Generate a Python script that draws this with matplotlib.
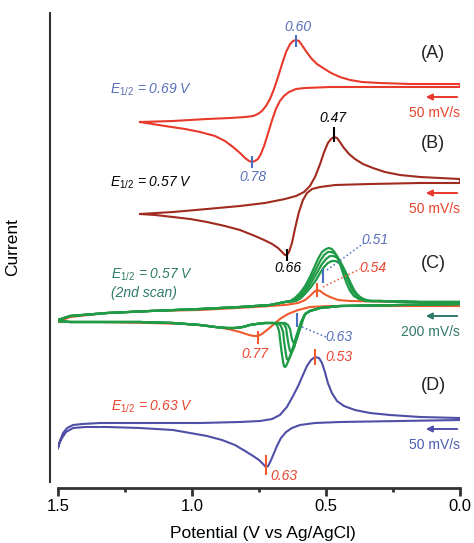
import numpy as np
import matplotlib
matplotlib.use("Agg")
import matplotlib.pyplot as plt
from matplotlib.ticker import MultipleLocator

plt.rcParams["font.family"] = ["Liberation Sans", "DejaVu Sans"]
plt.rcParams["mathtext.fontset"] = "custom"
plt.rcParams["mathtext.rm"] = "Liberation Sans"
plt.rcParams["mathtext.it"] = "Liberation Sans:italic"
plt.rcParams["mathtext.default"] = "it"

# --- DATA: potential (V vs Ag/AgCl) and current (arb. units, relative to baseline) ---
# (A) 50 mV/s
a_up_v = [1.194, 1.071, 0.944, 0.858, 0.802, 0.772, 0.754, 0.739, 0.724, 0.709, 0.694, 0.679,
          0.664, 0.649, 0.634, 0.623, 0.612, 0.601, 0.590, 0.575, 0.556, 0.534, 0.511, 0.481,
          0.448, 0.410, 0.366, 0.299, 0.187, 0.0]
a_up_i = [-37, -36, -34, -33, -32, -31, -29, -26, -21, -14, -4, 8,
          21, 33, 41, 44, 45, 44, 40, 34, 27, 21, 17, 12,
          8, 5, 3, 2, 1, 1]
a_dn_v = [0.0, 0.224, 0.485, 0.578, 0.612, 0.638, 0.657, 0.672, 0.687, 0.701, 0.716, 0.731,
          0.743, 0.754, 0.765, 0.776, 0.787, 0.802, 0.821, 0.847, 0.877, 0.914, 0.970, 1.026,
          1.101, 1.194]
a_dn_i = [-2, -2, -2, -3, -4, -7, -11, -16, -24, -35, -48, -61,
          -69, -74, -76, -77, -76, -73, -68, -62, -56, -51, -47, -44,
          -41, -37]

# (B) 50 mV/s
b_up_v = [1.194, 1.071, 0.944, 0.821, 0.728, 0.653, 0.612, 0.582, 0.560, 0.541, 0.522, 0.507,
          0.493, 0.481, 0.470, 0.459, 0.448, 0.433, 0.414, 0.392, 0.362, 0.325, 0.280, 0.224,
          0.149, 0.075, 0.0]
b_up_i = [-33, -31, -28, -25, -22, -18, -15, -11, -5, 4, 17, 29,
          38, 42, 44, 43, 39, 33, 27, 22, 17, 13, 9, 6,
          4, 3, 2]
b_dn_v = [0.0, 0.149, 0.336, 0.466, 0.522, 0.552, 0.571, 0.586, 0.601, 0.616, 0.627, 0.638,
          0.646, 0.653, 0.664, 0.679, 0.701, 0.731, 0.765, 0.821, 0.877, 0.944, 1.007, 1.071,
          1.138, 1.194]
b_dn_i = [-2, -2, -3, -4, -6, -8, -12, -19, -31, -48, -62, -71,
          -74, -74, -71, -67, -63, -59, -55, -49, -45, -41, -38, -36,
          -34, -33]

# (C) 200 mV/s, green = repeated scans, red = first scan
c_green_left_v = [1.5, 1.455, 1.317, 1.157, 0.97, 0.821, 0.709, 0.653]
c_green_left_i = [-18, -14, -11, -9, -7, -5, -3, 0]
c_green_peak_v = [
    [0.634, 0.616, 0.597, 0.578, 0.560, 0.545, 0.530, 0.515, 0.500, 0.489, 0.478, 0.466,
     0.455, 0.444, 0.433, 0.422, 0.410, 0.396, 0.377, 0.351],
    [0.627, 0.608, 0.590, 0.571, 0.552, 0.537, 0.522, 0.507, 0.493, 0.481, 0.470, 0.459,
     0.448, 0.437, 0.425, 0.414, 0.403, 0.388, 0.369, 0.343],
    [0.619, 0.601, 0.582, 0.563, 0.545, 0.530, 0.515, 0.500, 0.485, 0.474, 0.463, 0.451,
     0.440, 0.429, 0.418, 0.407, 0.396, 0.381, 0.362, 0.336],
    [0.612, 0.593, 0.575, 0.556, 0.537, 0.522, 0.507, 0.493, 0.478, 0.466, 0.455, 0.444,
     0.433, 0.422, 0.410, 0.399, 0.388, 0.373, 0.354, 0.328],
]
c_green_peak_i = [
    [1, 4, 9, 16, 25, 34, 43, 50, 53, 54, 53, 49, 43, 35, 26, 18, 11, 6, 3, 1],
    [1, 4, 9, 16, 25, 33, 41, 47, 50, 50, 49, 46, 41, 34, 26, 19, 12, 7, 3, 1],
    [1, 4, 9, 16, 24, 31, 38, 43, 46, 46, 45, 42, 37, 31, 24, 17, 11, 6, 3, 1],
    [1, 4, 9, 15, 22, 29, 35, 39, 41, 41, 40, 37, 33, 27, 20, 14, 9, 5, 2, 1],
]
c_green_right_v = [0.299, 0.149, 0.0]
c_green_right_i = [1, 0, 0]
c_green_ret_v = [0.0, 0.224, 0.448, 0.522, 0.56, 0.578]
c_green_ret_i = [-2, -3, -4, -6, -9, -12]
c_green_trough_v = [
    [0.593, 0.601, 0.612, 0.623, 0.634, 0.642, 0.649, 0.653, 0.657, 0.660, 0.664, 0.668,
     0.672, 0.675, 0.683, 0.694],
    [0.590, 0.597, 0.608, 0.619, 0.631, 0.638, 0.642, 0.646, 0.649, 0.653, 0.657, 0.660,
     0.668, 0.679],
    [0.590, 0.597, 0.604, 0.612, 0.619, 0.627, 0.631, 0.634, 0.638, 0.642, 0.646, 0.649,
     0.657, 0.668],
    [0.586, 0.593, 0.601, 0.608, 0.616, 0.619, 0.623, 0.627, 0.631, 0.634, 0.642, 0.653],
]
c_green_trough_i = [
    [-20, -26, -35, -45, -54, -60, -64, -65, -64, -60, -53, -45, -36, -29, -23, -21],
    [-19, -25, -35, -45, -53, -57, -58, -57, -53, -46, -38, -30, -24, -21],
    [-19, -25, -32, -39, -45, -49, -50, -49, -45, -39, -32, -26, -22, -21],
    [-18, -24, -30, -36, -40, -41, -40, -37, -32, -27, -23, -21],
]
c_green_end_v = [0.709, 0.728, 0.760, 0.784, 0.810, 0.840, 0.870, 0.914, 0.970, 1.071,
                 1.194, 1.317, 1.455, 1.5]
c_green_end_i = [-21, -21, -22, -23, -25, -26, -26, -25, -23, -21, -20, -20, -20, -19]

c_red_up_v = [1.5, 1.455, 1.317, 1.157, 0.970, 0.765, 0.653, 0.604, 0.578, 0.560, 0.545,
              0.534, 0.522, 0.507, 0.485, 0.455, 0.410, 0.224, 0.0]
c_red_up_i = [-20, -15, -11, -9, -8, -5, -3, -1, 2, 6, 10, 12, 11, 8, 5, 2, 1, 0, -1]
c_red_dn_v = [0.0, 0.224, 0.485, 0.560, 0.604, 0.642, 0.672, 0.698, 0.720, 0.739, 0.754,
              0.769, 0.787, 0.821, 0.866, 0.933, 1.026, 1.157, 1.343, 1.5]
c_red_dn_i = [-4, -4, -4, -5, -8, -12, -17, -23, -28, -32, -34,
              -34, -33, -30, -27, -24, -22, -21, -20, -20]

# (D) 50 mV/s
d_up_v = [1.5, 1.493, 1.481, 1.466, 1.444, 1.410, 1.343, 1.194, 0.970, 0.821, 0.746, 0.701,
          0.672, 0.646, 0.623, 0.604, 0.586, 0.571, 0.556, 0.541, 0.526, 0.515, 0.504, 0.493,
          0.478, 0.459, 0.433, 0.392, 0.336, 0.261, 0.149, 0.0]
d_up_i = [-30, -23, -15, -10, -7, -6, -5, -5, -5, -4, -3, -1,
          3, 11, 22, 32, 43, 52, 58, 61, 60, 55, 46, 35,
          25, 17, 12, 8, 5, 3, 1, 0]
d_dn_v = [0.0, 0.224, 0.448, 0.541, 0.597, 0.627, 0.649, 0.668, 0.683, 0.694, 0.705, 0.716,
          0.724, 0.735, 0.750, 0.772, 0.802, 0.840, 0.888, 0.944, 1.007, 1.071, 1.194, 1.317,
          1.399, 1.444, 1.470, 1.485, 1.496, 1.5]
d_dn_i = [-2, -3, -4, -5, -7, -10, -14, -20, -28, -35, -42, -48,
          -49, -46, -42, -38, -33, -27, -22, -18, -15, -12, -10, -9,
          -9, -10, -14, -20, -26, -30]

offsets = {"A": 458, "B": 362, "C": 241, "D": 125}

# --- colours ---
red = "#e8392b"
brown = "#a02a1f"
green = "#1f9a46"
orange = "#f05a2c"
blue = "#4f4fa8"
txt_blue = "#5a70b8"
tick_blue = "#4a6fc0"
teal = "#2f7a68"
txt_red = "#e8452f"

fig = plt.figure(figsize=(4.74, 5.43), dpi=100)
ax = fig.add_axes([58 / 474, 61 / 543, 402 / 474, 469 / 543])


def px(x, y):
    # figure pixel position -> data coordinates (for annotations)
    return 1.5 - (x - 58) / 268.0, 543 - y


def loop(v1, i1, v2, i2, off):
    return np.array(v1 + v2), np.array(i1 + i2) + off


# curves
va, ia = loop(a_up_v, a_up_i, a_dn_v, a_dn_i, offsets["A"])
ax.plot(va, ia, color=red, lw=1.5)
vb, ib = loop(b_up_v, b_up_i, b_dn_v, b_dn_i, offsets["B"])
ax.plot(vb, ib, color=brown, lw=1.5)
vr, ir = loop(c_red_up_v, c_red_up_i, c_red_dn_v, c_red_dn_i, offsets["C"])
ax.plot(vr, ir, color=orange, lw=1.5)
for k in range(len(c_green_peak_v)):
    v = (c_green_left_v + c_green_peak_v[k] + c_green_right_v
         + c_green_ret_v + c_green_trough_v[k] + c_green_end_v)
    i = (c_green_left_i + c_green_peak_i[k] + c_green_right_i
         + c_green_ret_i + c_green_trough_i[k] + c_green_end_i)
    ax.plot(v, np.array(i) + offsets["C"], color=green, lw=1.6)
vd, idd = loop(d_up_v, d_up_i, d_dn_v, d_dn_i, offsets["D"])
ax.plot(vd, idd, color=blue, lw=1.5)


def peak_tick(v, i, color, up=7, down=7):
    ax.plot([v, v], [i - down, i + up], color=color, lw=1.5, solid_capstyle="butt")


def extreme(vs, cs, off, fn):
    j = fn(cs)
    return vs[j], cs[j] + off


peak_tick(*extreme(a_up_v, a_up_i, offsets["A"], np.argmax), tick_blue, 5, 7)
peak_tick(*extreme(a_dn_v, a_dn_i, offsets["A"], np.argmin), tick_blue, 6, 6)
peak_tick(*extreme(b_up_v, b_up_i, offsets["B"], np.argmax), "black", 10, 5)
peak_tick(*extreme(b_dn_v, b_dn_i, offsets["B"], np.argmin), "black", 6, 6)
peak_tick(*extreme(c_red_up_v, c_red_up_i, offsets["C"], np.argmax), orange, 7, 7)
peak_tick(*extreme(c_red_dn_v, c_red_dn_i, offsets["C"], np.argmin), orange, 5, 8)
peak_tick(*px(323, 276), tick_blue, 7, 7)
peak_tick(*px(297, 320), tick_blue, 7, 7)
peak_tick(*extreme(d_up_v, d_up_i, offsets["D"], np.argmax), orange, 8, 8)
peak_tick(*extreme(d_dn_v, d_dn_i, offsets["D"], np.argmin), orange, 12, 8)

# dotted leaders in panel C
ax.plot(*zip(px(327, 270), px(364, 243)), color=tick_blue, lw=1.1, ls=":")
ax.plot(*zip(px(323, 287), px(360, 269)), color=orange, lw=1.1, ls=":")
ax.plot(*zip(px(302, 327), px(326, 337)), color=tick_blue, lw=1.1, ls=":")

# value labels
lab = dict(style="italic", fontsize=10, ha="center", va="center")
ax.text(*px(298, 27), "0.60", color=txt_blue, **lab)
ax.text(*px(253, 177), "0.78", color=txt_blue, **lab)
ax.text(*px(333, 118), "0.47", color="black", **lab)
ax.text(*px(288, 268), "0.66", color="black", **lab)
ax.text(*px(375, 240), "0.51", color=txt_blue, **lab)
ax.text(*px(373, 268), "0.54", color=txt_red, **lab)
ax.text(*px(339, 337), "0.63", color=txt_blue, **lab)
ax.text(*px(255, 354), "0.77", color=txt_red, **lab)
ax.text(*px(339, 357), "0.53", color=txt_red, **lab)
ax.text(*px(284, 476), "0.63", color=txt_red, **lab)

# half-wave potentials
ehalf = dict(style="italic", fontsize=10, ha="left", va="center")
ax.text(*px(110, 90), r"$E_{1/2}$ = 0.69 V", color=txt_blue, **ehalf)
ax.text(*px(110, 183), r"$E_{1/2}$ = 0.57 V", color="black", **ehalf)
ax.text(*px(111, 275), r"$E_{1/2}$ = 0.57 V", color=teal, **ehalf)
ax.text(*px(111, 293), "(2nd scan)", color=teal, **ehalf)
ax.text(*px(111, 407), r"$E_{1/2}$ = 0.63 V", color=txt_red, **ehalf)

# panel letters
for name, ypx in [("(A)", 53), ("(B)", 143), ("(C)", 263), ("(D)", 385)]:
    ax.text(*px(433, ypx), name, fontsize=13, ha="center", va="center", color="#222222")

# scan direction arrows and rates
for ypx, col, rate, tcol in [(97, red, "50 mV/s", txt_red), (193, red, "50 mV/s", txt_red),
                             (316, teal, "200 mV/s", teal), (429, blue, "50 mV/s", "#4a5db0")]:
    ax.annotate("", xy=px(423, ypx), xytext=px(460, ypx),
                arrowprops=dict(arrowstyle="-|>", color=col, lw=1.4, mutation_scale=9))
    ax.text(*px(460, ypx + 16), rate, fontsize=10, ha="right", va="center", color=tcol)

# --- STYLE ---
ax.set_xlim(1.5, 0.0)
ax.set_ylim(61, 530)
ax.spines["top"].set_visible(False)
ax.spines["right"].set_visible(False)
ax.spines["left"].set_position(("outward", 6))
ax.spines["bottom"].set_position(("outward", 4.5))
ax.spines["left"].set_linewidth(1.5)
ax.spines["bottom"].set_linewidth(2)
ax.spines["left"].set_color("#333333")
ax.spines["bottom"].set_color("#333333")
ax.set_yticks([])
ax.set_xticks([1.5, 1.0, 0.5, 0.0])
ax.set_xticklabels(["1.5", "1.0", "0.5", "0.0"])
ax.xaxis.set_minor_locator(MultipleLocator(0.25))
ax.tick_params(axis="x", which="major", length=6, width=2, color="#333333", labelsize=12, pad=2)
ax.tick_params(axis="x", which="minor", length=3, width=2, color="#333333")
ax.set_xlabel("Potential (V vs Ag/AgCl)", fontsize=12.5, va="bottom")
ax.xaxis.set_label_coords(0.51, -0.125)
ax.set_ylabel("Current", fontsize=12.5)
ax.yaxis.set_label_coords(-0.095, 0.5)

plt.savefig("out.png", dpi=100)
